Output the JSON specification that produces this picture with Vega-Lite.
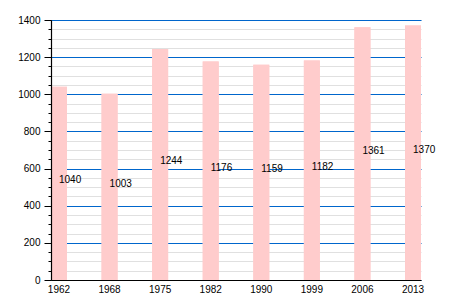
{
  "$schema": "https://vega.github.io/schema/vega-lite/v6.json",
  "width": 370,
  "height": 260,
  "autosize": {"type": "none"},
  "padding": {"left": 51, "top": 20, "right": 29, "bottom": 20},
  "background": "white",
  "config": {"view": {"stroke": null}, "font": "Liberation Sans"},
  "data": {"values": [
    {"year": "1962", "value": 1040},
    {"year": "1968", "value": 1003},
    {"year": "1975", "value": 1244},
    {"year": "1982", "value": 1176},
    {"year": "1990", "value": 1159},
    {"year": "1999", "value": 1182},
    {"year": "2006", "value": 1361},
    {"year": "2013", "value": 1370}
  ]},
  "encoding": {
    "x": {"field": "year", "type": "ordinal", "title": null,
      "scale": {"paddingInner": 0.684, "paddingOuter": 0},
      "axis": {"labelAngle": 0, "ticks": false, "tickSize": 0, "labelPadding": 4, "labelFontSize": 10, "labelColor": "#000", "domainColor": "#000", "domainWidth": 1.2, "grid": false, "zindex": 1}}
  },
  "layer": [
    {
      "mark": {"type": "bar", "color": "#ffcccc"},
      "encoding": {
        "y": {"field": "value", "type": "quantitative", "title": null,
          "scale": {"domain": [0, 1400], "nice": false},
          "axis": {"orient": "left", "values": [0,50,100,150,200,250,300,350,400,450,500,550,600,650,700,750,800,850,900,950,1000,1050,1100,1150,1200,1250,1300,1350,1400],
            "labels": false, "tickSize": 3, "tickColor": "#000", "domain": false, "grid": true, "gridColor": "#e0e0e0", "gridWidth": 1}}
      }
    },
    {
      "mark": {"type": "bar", "color": "#ffcccc"},
      "encoding": {
        "y": {"field": "value", "type": "quantitative", "title": null,
          "scale": {"domain": [0, 1400], "nice": false},
          "axis": {"orient": "left", "values": [0,200,400,600,800,1000,1200,1400], "format": "d",
            "tickSize": 7, "tickColor": "#000", "domain": false, "labelPadding": 4, "labelFontSize": 10, "labelColor": "#000",
            "grid": true, "gridColor": "#0066cc", "gridWidth": 1.2}}
      }
    },
    {
      "mark": {"type": "bar", "color": "#ffcccc", "opacity": 0},
      "encoding": {
        "y": {"field": "value", "type": "quantitative", "title": null,
          "scale": {"domain": [0, 1400], "nice": false},
          "axis": {"orient": "left", "values": [0, 1400], "labels": false, "ticks": false, "grid": false,
            "domain": true, "domainColor": "#000", "domainWidth": 1.2, "zindex": 1}}
      }
    },
    {
      "mark": {"type": "text", "align": "left", "baseline": "alphabetic", "fontSize": 10, "color": "#000"},
      "encoding": {
        "y": {"field": "value", "type": "quantitative", "scale": {"domain": [0, 2800], "nice": false}, "axis": null},
        "text": {"field": "value", "type": "quantitative", "format": "d"}
      }
    }
  ],
  "resolve": {"scale": {"y": "independent"}, "axis": {"y": "independent"}}
}
